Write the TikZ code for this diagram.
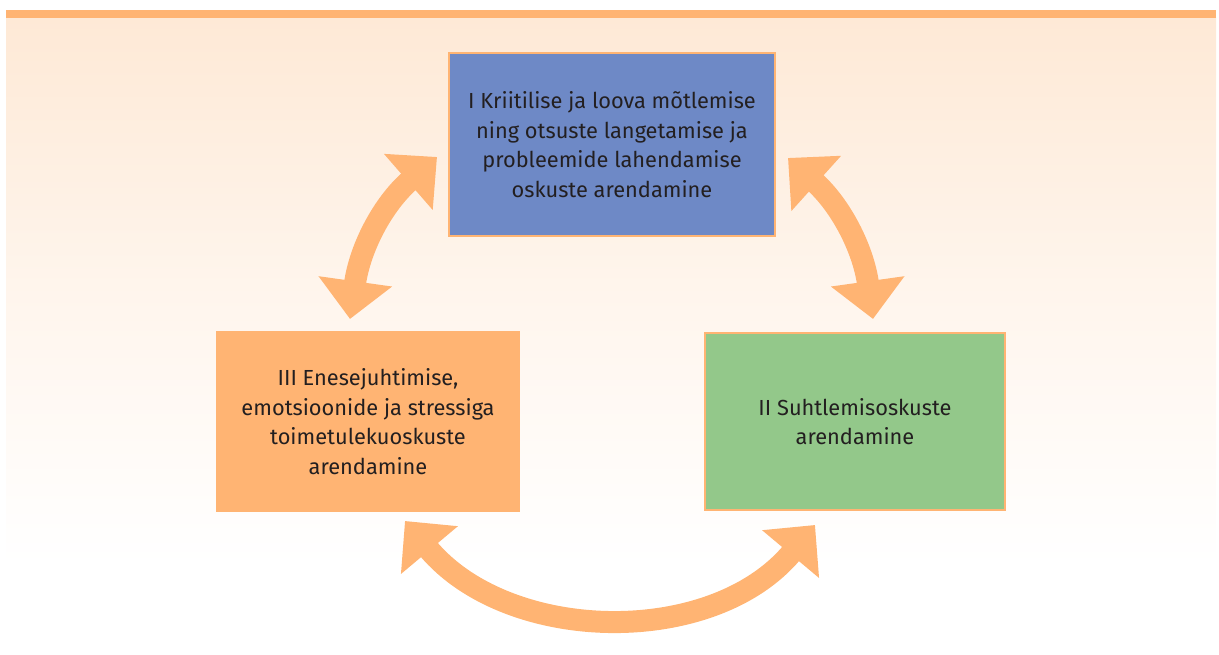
\documentclass[tikz,border=0pt]{standalone}
\usepackage{fontspec}
\setmainfont{Fira Sans}
\usetikzlibrary{arrows.meta,calc}

\definecolor{skillorange}{HTML}{FFB473}
\definecolor{skillblue}{HTML}{6E89C6}
\definecolor{skillgreen}{HTML}{93C88A}
\definecolor{peach}{HTML}{FEE9D6}
\definecolor{textdark}{HTML}{231F20}

\begin{document}
\begin{tikzpicture}[
    x=1pt, y=1pt,
    skill/.style={rectangle, draw=skillorange, line width=2pt, text=textdark, align=center,
        font=\fontsize{21.8pt}{29.5pt}\selectfont, inner sep=0pt},
    bigarrow/.style={skillorange, line width=22pt,
        {Triangle[width=72pt,length=38pt]}-{Triangle[width=72pt,length=38pt]}},
]
    \useasboundingbox (0,0) rectangle (1219,655);

    % Background
    \shade[top color=peach, bottom color=white, middle color=peach!45] (6,90) rectangle (1216,637.3);
    \fill[skillorange] (6,637.3) rectangle (1216,645);

    % Skill boxes
    \node[skill, fill=skillblue, minimum width=326pt, minimum height=183pt] (critical) at (612,510.5)
        {I Kriitilise ja loova mõtlemise\\ning otsuste langetamise ja\\probleemide lahendamise\\oskuste arendamine};
    \node[skill, fill=skillorange, minimum width=302pt, minimum height=179pt] (selfmgmt) at (368,233.5)
        {III Enesejuhtimise,\\emotsioonide ja stressiga\\toimetulekuoskuste\\arendamine};
    \node[skill, fill=skillgreen, minimum width=300pt, minimum height=177pt] (social) at (855,233.5)
        {II Suhtlemisoskuste\\arendamine};

    % Arrows
    \draw[bigarrow] ([shift={(-18,12)}]selfmgmt.north) to[out=82, in=221] ([shift={(-11,-12.5)}]critical.west);
    \draw[bigarrow] ([shift={(12,-13.5)}]critical.east) to[out=318, in=98] ([shift={(18,13)}]social.north);
    \draw[bigarrow] ([shift={(37,-9)}]selfmgmt.south) to[out=310, in=230] ([shift={(-40,-14)}]social.south);
\end{tikzpicture}
\end{document}
